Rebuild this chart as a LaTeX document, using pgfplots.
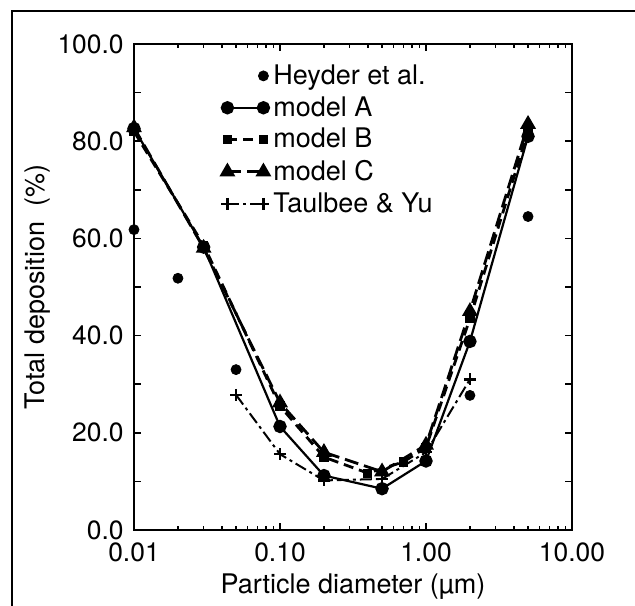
\documentclass[border=0pt]{standalone}
\usepackage{fontspec}
\setmainfont{TeX Gyre Heros}
\usepackage{pgfplots}
\pgfplotsset{compat=1.18}

% 1 px of the reference = 0.5pt
\newcommand{\tickfont}{\fontsize{13.2}{15}\selectfont}
\newcommand{\lblfont}{\fontsize{13.5}{15}\selectfont}
\pgfplotsset{
  dotlegend/.style={legend image code/.code={\draw[##1] plot coordinates {(18pt,0pt)};}},
}

\begin{document}
\begin{tikzpicture}[x=0.5pt,y=0.5pt]
\path[use as bounding box] (-134,-75) rectangle (501,530);
\draw[line width=1pt] (-122,-80) -- (-122,519) -- (506,519);
\begin{axis}[
  at={(0,0)}, anchor=south west,
  scale only axis, width=219pt, height=243pt,
  xmode=log, xmin=0.01, xmax=10, ymin=0, ymax=100,
  axis line style={line width=1.3pt},
  tick align=inside, tick style={black, line width=0.8pt},
  major tick length=3.5pt, minor tick length=2pt,
  xtick={0.01,0.1,1,10}, xticklabels={0.01,0.10,1.00,10.00},
  ytick={0,20,...,100}, yticklabels={0.0,20.0,40.0,60.0,80.0,100.0},
  extra y ticks={10,30,50,70,90}, extra y tick labels={},
  ticklabel style={font=\tickfont, inner sep=0.5pt},
  xticklabel style={yshift=-5.5pt},
  yticklabel style={xshift=-4.5pt},
  xlabel={Particle diameter (µm)},
  ylabel={Total deposition\ \ (\%)},
  every axis x label/.style={at={(axis description cs:0.5,-0.117)}, anchor=center, font=\lblfont},
  every axis y label/.style={at={(axis description cs:-0.219,0.5)}, rotate=90, anchor=center, font=\lblfont},
  legend style={draw=none, fill=none, at={(0.185,0.975)}, anchor=north west,
    font=\lblfont, row sep=0.6pt},
  legend cell align=left,
  legend image code/.code={\draw[mark repeat=1,#1] plot coordinates {(0pt,0pt) (18pt,0pt)};},
]
% Heyder et al. (measured)
\addplot[only marks, mark=*, mark size=2.5pt, dotlegend]
  coordinates {(0.01,61.8) (0.02,51.8) (0.05,33.0) (2,27.7) (5,64.5)};
\addlegendentry{Heyder et al.}
% model A
\addplot[black, line width=1.1pt, mark=*, mark size=2.8pt]
  coordinates {(0.01,82.6) (0.03,58.2) (0.1,21.3) (0.2,11.2) (0.5,8.5) (1.0,14.2) (2.0,38.8) (5.0,81.0)};
\addlegendentry{model A}
% model B
\addplot[black, line width=1.4pt, dash pattern=on 5pt off 3pt, mark=square*, mark size=1.6pt, mark options={solid}]
  coordinates {(0.01,82.0) (0.03,58.6) (0.1,25.5) (0.2,15.0) (0.4,11.7) (0.7,14.0) (1.0,17.0) (2.0,43.5) (5.0,82.0)};
\addlegendentry{model B}
% model C
\addplot[black, line width=1.4pt, dash pattern=on 7pt off 3pt, mark=triangle*, mark size=3.2pt, mark options={solid}]
  coordinates {(0.01,82.8) (0.03,58.0) (0.1,26.2) (0.2,16.0) (0.5,12.0) (1.0,17.5) (2.0,45.0) (5.0,83.5)};
\addlegendentry{model C}
% Taulbee & Yu
\addplot[black, line width=1pt, dash pattern=on 6pt off 2pt on 1.5pt off 2pt, mark=+, mark size=3pt, mark options={solid, line width=1.2pt}]
  coordinates {(0.05,27.8) (0.1,15.6) (0.2,10.2) (0.5,10.5) (1.0,16.0) (2.0,31.0)};
\addlegendentry{Taulbee \& Yu}
\end{axis}
\end{tikzpicture}
\end{document}
